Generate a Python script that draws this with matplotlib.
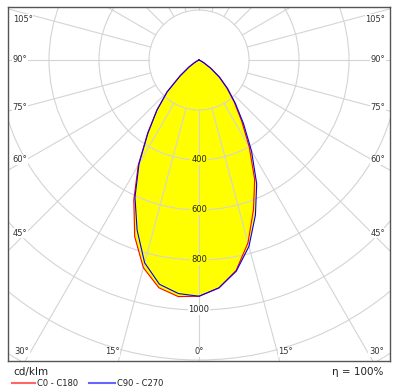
import numpy as np
import matplotlib
matplotlib.use("Agg")
import matplotlib.pyplot as plt
from matplotlib.patches import Circle

# gamma angles (deg) and luminous intensity in cd/klm per half-plane
gamma = [0, 5, 10, 15, 20, 25, 30, 35, 40, 45, 50, 55, 60, 65, 70, 75, 80, 85, 90]
c0 = [945, 915, 855, 757, 637, 527, 402, 297, 219, 156, 104, 56, 22, 7, 2, 0, 0, 0, 0]
c180 = [945, 950, 925, 860, 752, 617, 486, 358, 263, 181, 100, 50, 20, 6, 2, 0, 0, 0, 0]
c90 = [945, 915, 858, 772, 660, 546, 420, 310, 226, 162, 108, 58, 23, 7, 2, 0, 0, 0, 0]
c270 = [945, 938, 911, 840, 724, 606, 480, 356, 261, 180, 97, 48, 19, 6, 2, 0, 0, 0, 0]

rings = [200, 400, 600, 800, 1000, 1200, 1400, 1600]
ring_labels = [400, 600, 800, 1000]
spokes = np.arange(0, 360, 15)

left_angles = ["105°", "90°", "75°", "60°", "45°"]
left_y = [164, 0, -188, -400, -692]
bottom_angles = ["30°", "15°", "0°", "15°", "30°"]
bottom_x = [-709, -345, 0, 345, 709]

fig = plt.figure(figsize=(4.01, 3.92), dpi=100)
ax = fig.add_axes([8 / 401, 31 / 392, 382 / 401, 354 / 392])
ax.set_xlim(-764, 764)
ax.set_ylim(-1204, 212)
ax.set_xticks([])
ax.set_yticks([])
for s in ax.spines.values():
    s.set_color("#555555")
    s.set_linewidth(1.0)


def curve(left, right):
    g = np.radians(gamma)
    l = np.array(left, float)
    r = np.array(right, float)
    xs = np.concatenate([-l[::-1] * np.sin(g[::-1]), r[1:] * np.sin(g[1:])])
    ys = np.concatenate([-l[::-1] * np.cos(g[::-1]), -r[1:] * np.cos(g[1:])])
    return xs, ys


xr, yr = curve(c180, c0)
xb, yb = curve(c270, c90)
ax.fill(xr, yr, color="#ffff00", lw=0, zorder=1)
ax.fill(xb, yb, color="#ffff00", lw=0, zorder=1)

gc = "#d4d4d4"
for r in rings:
    ax.add_patch(Circle((0, 0), r, fill=False, ec=gc, lw=0.8, zorder=2))
for a in spokes:
    t = np.radians(a)
    ax.plot([200 * np.sin(t), 2000 * np.sin(t)], [-200 * np.cos(t), -2000 * np.cos(t)],
            color=gc, lw=0.8, zorder=2)

ax.plot(xr, yr, color="#ff0000", lw=0.8, zorder=3)
ax.plot(xb, yb, color="#0000ff", lw=0.8, zorder=4)

for v in ring_labels:
    fc = "#ffff00" if v < 1000 else "white"
    ax.text(0, -v, str(v), ha="center", va="center", fontsize=6, color="#222222",
            bbox=dict(fc=fc, ec="none", pad=0.6), zorder=5)

for lab, y in zip(left_angles, left_y):
    ax.text(-745, y, lab, ha="left", va="center", fontsize=6, color="#333333",
            bbox=dict(fc="white", ec="none", pad=0.3), zorder=5)
    ax.text(745, y, lab, ha="right", va="center", fontsize=6, color="#333333",
            bbox=dict(fc="white", ec="none", pad=0.3), zorder=5)
for lab, x in zip(bottom_angles, bottom_x):
    ax.text(x, -1168, lab, ha="center", va="center", fontsize=6, color="#333333",
            bbox=dict(fc="white", ec="none", pad=0.3), zorder=5)

fig.text(13 / 401, 1 - 372 / 392, "cd/klm", ha="left", va="center", fontsize=7.5, color="#222222")
fig.text(383 / 401, 1 - 372 / 392, "η = 100%", ha="right", va="center", fontsize=7.5, color="#222222")
fig.add_artist(plt.Line2D([12 / 401, 35 / 401], [1 - 383 / 392] * 2, color="#ff6666", lw=1.5))
fig.text(37 / 401, 1 - 383 / 392, "C0 - C180", ha="left", va="center", fontsize=6, color="#222222")
fig.add_artist(plt.Line2D([89 / 401, 115 / 401], [1 - 383 / 392] * 2, color="#6666ff", lw=1.5))
fig.text(117 / 401, 1 - 383 / 392, "C90 - C270", ha="left", va="center", fontsize=6, color="#222222")

fig.savefig("out.png", dpi=100)
